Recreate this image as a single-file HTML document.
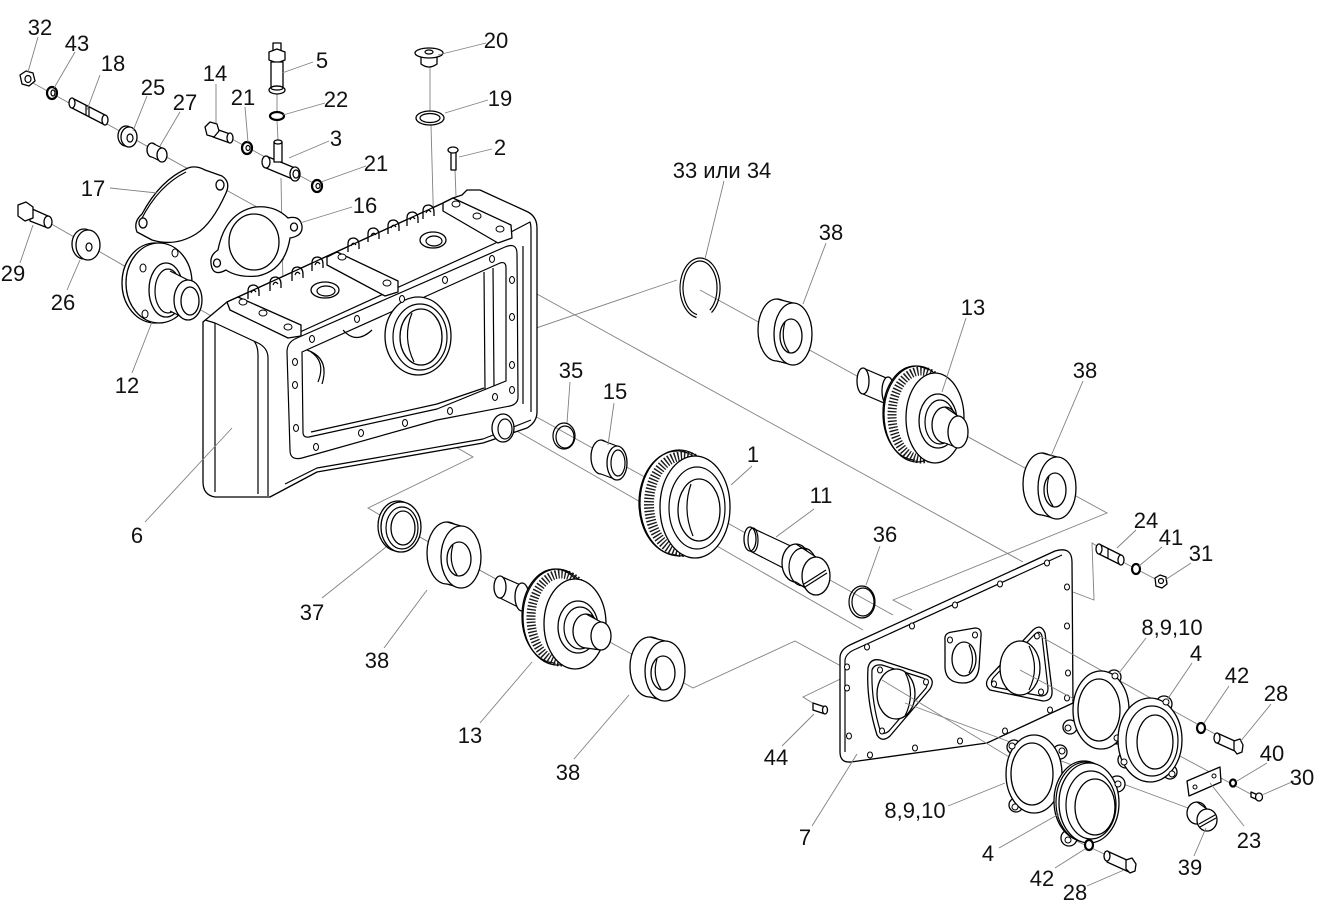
<!DOCTYPE html>
<html><head><meta charset="utf-8"><style>
html,body{margin:0;padding:0;background:#fff;}
svg{display:block}
.k{fill:#fff;stroke:#000;stroke-width:1.3;stroke-linejoin:round}
.n{fill:none;stroke:#000;stroke-width:1.2;stroke-linejoin:round}
.g{fill:none;stroke:#808080;stroke-width:0.9}
.h{fill:#fff;stroke:#000;stroke-width:1}
.d{fill:#fff;stroke:#000;stroke-width:2.2}
.w{fill:#fff;stroke:none}
.t{fill:none;stroke:#1a1a1a;stroke-dasharray:1.4 1.8}
text{font-family:"Liberation Sans",Arial,sans-serif;font-size:22px;text-anchor:middle;fill:#111}
</style></head><body>
<svg width="1324" height="905" viewBox="0 0 1324 905" xmlns="http://www.w3.org/2000/svg">
<rect width="1324" height="905" fill="#fff"/>

<g class="g">
<path d="M33,83 L293,227"/>
<path d="M48,222 L213,317"/>
<path d="M230,138 L317,185"/>
<path d="M255,243 L284,260"/>
<path d="M277,92 L277,112 M277,120 L278,140 M281,178 L283,286"/>
<path d="M430,66 L430,111 M431,125 L434,236"/>
<path d="M455,170 L456,196"/>
<path d="M403,327 L457,355 L677,280"/>
<path d="M700,290 L1107,513 L893,600 L912,610"/>
<path d="M380,330 L893,615"/>
<path d="M515,430 L863,630"/>
<path d="M517,283 L1023,562"/>
<path d="M310,362 L473,457 L368,508 L380,515 L693,688 L795,641 L852,672"/>
<path d="M819,707 L803,697 L855,672"/>
<path d="M1073,592 L1094,600 L1092,543 L1100,548 M1121,561 L1161,582"/>
</g>

<!-- HOUSING 6 -->
<path class="k" d="M203,322 L227,302 L238,297 L443,203 L453,198 L462,195 L467,190 L480,190 L528,212 Q537,217 537,228 L537,412 Q537,422 527,428 L483,443 L317,472 L270,497 L215,497 Q203,495 203,482 Z"/>
<g class="k">
<path d="M248,299 L248,291 Q248,285 254,285 Q259,286 259,292 L259,296"/>
<path d="M270,291 L270,283 Q270,277 276,277 Q281,278 281,284 L281,288"/>
<path d="M292,281 L292,273 Q292,267 298,267 Q303,268 303,274 L303,278"/>
<path d="M312,271 L312,263 Q312,257 318,257 Q323,258 323,264 L323,268"/>
<path d="M348,252 L348,244 Q348,238 354,238 Q359,239 359,245 L359,249"/>
<path d="M368,242 L368,234 Q368,228 374,228 Q379,229 379,235 L379,239"/>
<path d="M388,234 L388,226 Q388,220 394,220 Q399,221 399,227 L399,231"/>
<path d="M407,226 L407,218 Q407,212 413,212 Q418,213 418,219 L418,223"/>
<path d="M423,219 L423,211 Q423,205 429,205 Q434,206 434,212 L434,216"/>
</g>
<path class="n" stroke-width="0.9" d="M251,293 Q253,288 256,292 M273,285 Q275,280 278,284 M295,275 Q297,270 300,274 M315,265 Q317,260 320,264 M351,246 Q353,241 356,245 M371,236 Q373,231 376,235 M391,228 Q393,223 396,227 M410,220 Q412,215 415,219 M426,213 Q428,208 431,212"/>
<path class="n" d="M238,297 L443,203"/>
<path class="n" d="M300,332 L500,241"/>
<ellipse class="k" cx="325" cy="290" rx="14" ry="8"/>
<ellipse class="n" cx="326" cy="291" rx="9" ry="5"/>
<ellipse class="k" cx="433" cy="240" rx="13" ry="8"/>
<ellipse class="n" cx="434" cy="241" rx="8" ry="5"/>
<path class="k" d="M227,302 L238,297 L301,325 L301,336 L288,338 L230,310 Z"/>
<ellipse class="h" cx="243" cy="302" rx="4" ry="3"/>
<ellipse class="h" cx="263" cy="313" rx="4" ry="3"/>
<ellipse class="h" cx="288" cy="327" rx="4" ry="3"/>
<path class="k" d="M327,257 L337,252 L398,281 L398,292 L385,296 L327,265 Z"/>
<ellipse class="h" cx="342" cy="257" rx="4" ry="3"/>
<ellipse class="h" cx="387" cy="283" rx="4" ry="3"/>
<path class="k" d="M443,203 L453,198 L511,225 L512,238 L498,243 L443,211 Z"/>
<ellipse class="h" cx="456" cy="204" rx="4" ry="3"/>
<ellipse class="h" cx="477" cy="216" rx="4" ry="3"/>
<ellipse class="h" cx="500" cy="229" rx="4" ry="3"/>
<path class="n" d="M215,323 L258,343 Q268,348 268,358 L268,496"/>
<path class="n" d="M215,323 L215,492"/>
<path class="n" d="M254,341 Q258,346 258,355 L258,494"/>
<path class="n" d="M205,320 L215,323"/>
<path class="n" d="M511,232 L530,222 Q531,225 531,230 L531,412"/>
<path class="n" d="M523,246 L523,404"/>
<path class="n" d="M287,352 Q287,342 297,338 L505,247 Q517,242 517,254 L518,397 Q518,404 510,406 L437,420 L302,458 Q290,461 290,450 Z"/>
<path class="n" d="M302,352 L500,263 Q506,261 506,268 L506,381 L437,409 L309,437 Q303,438 303,432 Z"/>
<path class="n" d="M484,272 L485,390 M493,268 L494,386 M311,432 L437,404 L484,388"/>
<path class="n" d="M531,420 L483,439 L375,458 L317,468 L285,484"/>
<path class="n" d="M307,350 Q330,358 322,384 M311,352 Q326,362 318,382"/>
<path class="n" d="M343,330 Q356,345 372,330"/>
<ellipse class="k" cx="418" cy="336" rx="33" ry="39"/>
<ellipse class="n" cx="420" cy="337" rx="27" ry="33"/>
<ellipse class="k" cx="421" cy="337" rx="21" ry="28"/>
<path class="n" d="M412,313 Q402,337 414,362"/>
<ellipse class="k" cx="503" cy="428" rx="11" ry="14"/>
<ellipse class="n" cx="505" cy="429" rx="7" ry="10"/>
<g class="h">
<ellipse cx="295" cy="362" rx="2.5" ry="3.5"/><ellipse cx="295" cy="385" rx="2.5" ry="3.5"/><ellipse cx="296" cy="428" rx="2.5" ry="3.5"/>
<ellipse cx="316" cy="447" rx="2.5" ry="3.5"/><ellipse cx="361" cy="433" rx="2.5" ry="3.5"/><ellipse cx="405" cy="423" rx="2.5" ry="3.5"/>
<ellipse cx="450" cy="411" rx="2.5" ry="3.5"/><ellipse cx="495" cy="397" rx="2.5" ry="3.5"/>
<ellipse cx="512" cy="390" rx="2.5" ry="3.5"/><ellipse cx="512" cy="365" rx="2.5" ry="3.5"/><ellipse cx="512" cy="317" rx="2.5" ry="3.5"/><ellipse cx="512" cy="280" rx="2.5" ry="3.5"/>
<ellipse cx="492" cy="259" rx="2.5" ry="3.5"/><ellipse cx="445" cy="280" rx="2.5" ry="3.5"/><ellipse cx="402" cy="299" rx="2.5" ry="3.5"/><ellipse cx="357" cy="319" rx="2.5" ry="3.5"/><ellipse cx="312" cy="339" rx="2.5" ry="3.5"/>
</g>

<!-- TOP-LEFT SMALL PARTS -->
<path class="k" d="M20,75 L26,71 L33,73 L35,81 L29,86 L22,84 Z"/>
<ellipse class="n" cx="28" cy="79" rx="3" ry="3.5"/>
<ellipse class="d" cx="52" cy="93" rx="5" ry="6"/>
<ellipse class="n" cx="53" cy="93" rx="2" ry="3"/>
<path class="k" d="M72,98 L105,115 L105,125 L72,108 Z"/>
<ellipse class="k" cx="72" cy="103" rx="3" ry="5"/>
<ellipse class="k" cx="105" cy="120" rx="3" ry="5"/>
<path class="n" d="M86,105 L86,115 M89,107 L89,117"/>
<ellipse class="k" cx="126" cy="136" rx="8" ry="10"/>
<ellipse class="k" cx="129" cy="137" rx="8" ry="10"/>
<ellipse class="n" cx="130" cy="138" rx="3" ry="4"/>
<ellipse class="k" cx="152" cy="150" rx="5" ry="7"/>
<path class="w" d="M152,143 L162,148 L162,162 L152,157 Z"/>
<path class="n" d="M152,143 L162,148 M152,157 L162,162"/>
<ellipse class="k" cx="162" cy="155" rx="5" ry="7"/>
<path class="k" d="M213,128 L230,134 L230,143 L213,137 Z"/>
<ellipse class="k" cx="230" cy="138" rx="3" ry="5"/>
<path class="k" d="M205,127 L210,122 L217,124 L219,131 L214,137 L207,135 Z"/>
<ellipse class="d" cx="247" cy="148" rx="5" ry="6"/>
<ellipse class="n" cx="248" cy="148" rx="2" ry="2.5"/>
<rect class="k" x="273" y="43" width="8" height="8"/>
<path class="k" d="M269,52 L277,49 L285,52 L285,60 L277,63 L269,60 Z"/>
<rect class="k" x="271" y="62" width="12" height="26"/>
<ellipse class="k" cx="277" cy="90" rx="8" ry="4"/>
<ellipse class="n" cx="277" cy="88" rx="6" ry="2"/>
<ellipse class="d" cx="277" cy="116" rx="7" ry="4"/>
<path class="k" d="M266,156 L295,168 L295,180 L266,168 Z"/>
<ellipse class="k" cx="266" cy="162" rx="4" ry="6"/>
<rect class="k" x="274" y="142" width="8" height="20"/>
<ellipse class="k" cx="278" cy="142" rx="4" ry="2"/>
<ellipse class="k" cx="295" cy="174" rx="5" ry="7"/>
<ellipse class="n" cx="296" cy="174" rx="3" ry="4"/>
<ellipse class="d" cx="317" cy="186" rx="5" ry="6"/>
<ellipse class="n" cx="318" cy="186" rx="2" ry="2.5"/>
<path class="k" d="M421,56 L421,64 Q429,70 437,64 L437,56 Z"/>
<ellipse class="k" cx="429" cy="53" rx="14" ry="5"/>
<ellipse class="n" cx="429" cy="52" rx="4" ry="2"/>
<ellipse class="k" cx="430" cy="118" rx="14" ry="7"/>
<ellipse class="n" cx="430" cy="118" rx="10" ry="4.5"/>
<rect class="k" x="451" y="151" width="5" height="19"/>
<ellipse class="k" cx="453" cy="150" rx="5" ry="3"/>

<path class="k" d="M137,232 Q133,222 142,214 Q160,180 188,168 Q196,165 205,170 L222,176 Q231,182 226,193 Q212,224 196,234 Q175,247 152,240 Z"/>
<path class="n" d="M141,220 Q158,186 186,172"/>
<ellipse class="k" cx="143" cy="223" rx="4" ry="5"/>
<ellipse class="k" cx="220" cy="185" rx="4" ry="5"/>
<path class="k" d="M212,268 Q208,256 218,250 Q225,213 255,207 Q275,205 288,218 Q300,215 302,226 Q303,236 290,238 Q285,270 258,276 Q238,278 226,270 Q215,276 212,268 Z"/>
<ellipse class="k" cx="254" cy="242" rx="25" ry="28"/>
<ellipse class="k" cx="217" cy="263" rx="3.5" ry="4"/>
<ellipse class="k" cx="294" cy="227" rx="3.5" ry="4"/>
<path class="k" d="M30,208 L48,216 L48,228 L30,221 Z"/>
<ellipse class="k" cx="48" cy="222" rx="4" ry="6"/>
<path class="k" d="M18,205 L26,202 L33,207 L33,218 L25,221 L18,216 Z"/>
<ellipse class="k" cx="84" cy="244" rx="12" ry="15"/>
<ellipse class="k" cx="88" cy="245" rx="12" ry="15"/>
<ellipse class="n" cx="89" cy="247" rx="3" ry="4"/>
<ellipse class="k" cx="155" cy="283" rx="33" ry="40"/>
<ellipse class="k" cx="159" cy="283" rx="33" ry="40"/>
<ellipse class="h" cx="143" cy="268" rx="3" ry="4"/>
<ellipse class="h" cx="175" cy="253" rx="3" ry="4"/>
<ellipse class="h" cx="145" cy="314" rx="3" ry="4"/>
<ellipse class="k" cx="166" cy="290" rx="17" ry="27"/>
<ellipse class="n" cx="168" cy="291" rx="13" ry="22"/>
<path class="w" d="M170,271 L188,280 L188,320 L170,311 Z"/>
<path class="n" d="M170,271 L188,280 M170,311 L188,320"/>
<ellipse class="k" cx="188" cy="300" rx="14" ry="20"/>
<ellipse class="k" cx="190" cy="301" rx="9" ry="14"/>

<!-- UPPER SHAFT GROUP -->
<path class="n" stroke-width="1.4" d="M711.5,312.6 A20,30 0 1 0 696.5,317.5"/>
<path class="n" stroke-width="1.4" d="M709.8,310.1 A17,27 0 1 0 697,314.6"/>
<ellipse class="k" cx="777" cy="330" rx="19" ry="31"/>
<path class="w" d="M777,299 L793,303 L793,365 L777,361 Z"/>
<path class="n" d="M777,299 L793,303 M777,361 L793,365"/>
<ellipse class="k" cx="793" cy="334" rx="19" ry="31"/>
<ellipse class="k" cx="791" cy="336" rx="11" ry="17"/>
<path class="n" d="M785,322 Q780,340 789,352"/>
<path class="w" d="M863,368 L898,383 L898,409 L863,394 Z"/>
<path class="n" d="M863,368 L898,383 M863,394 L898,409"/>
<ellipse class="k" cx="863" cy="381" rx="6" ry="13"/>
<ellipse class="k" cx="888" cy="391" rx="6" ry="14"/>
<ellipse class="k" cx="915" cy="413" rx="32" ry="47"/>
<path class="w" d="M915,366 L935,372 L935,464 L915,460 Z"/>
<ellipse class="t" cx="921" cy="415" rx="29" ry="44" stroke-width="9"/>
<ellipse class="n" cx="917" cy="414" rx="33" ry="48" stroke-width="0.9"/>
<ellipse class="k" cx="935" cy="418" rx="29" ry="45"/>
<ellipse class="k" cx="938" cy="421" rx="19" ry="27"/>
<ellipse class="n" cx="940" cy="422" rx="15" ry="22"/>
<ellipse class="k" cx="945" cy="425" rx="13" ry="18"/>
<path class="w" d="M945,407 L958,416 L958,448 L945,443 Z"/>
<path class="n" d="M945,407 L958,416 M945,443 L958,448"/>
<ellipse class="k" cx="958" cy="432" rx="10" ry="16"/>
<ellipse class="k" cx="1042" cy="484" rx="19" ry="31"/>
<path class="w" d="M1042,453 L1057,457 L1057,519 L1042,515 Z"/>
<path class="n" d="M1042,453 L1057,457 M1042,515 L1057,519"/>
<ellipse class="k" cx="1057" cy="488" rx="19" ry="31"/>
<ellipse class="k" cx="1055" cy="490" rx="11" ry="17"/>
<path class="n" d="M1049,476 Q1044,494 1053,506"/>

<!-- MIDDLE SHAFT GROUP -->
<ellipse class="n" cx="564" cy="436" rx="11" ry="13" stroke-width="1.3"/>
<ellipse class="n" cx="565" cy="437" rx="9" ry="11"/>
<ellipse class="k" cx="601" cy="457" rx="10" ry="17"/>
<path class="w" d="M601,440 L617,446 L617,480 L601,474 Z"/>
<path class="n" d="M601,440 L617,446 M601,474 L617,480"/>
<ellipse class="k" cx="617" cy="463" rx="10" ry="17"/>
<ellipse class="n" cx="618" cy="463" rx="7" ry="13"/>
<ellipse class="k" cx="677" cy="503" rx="38" ry="52"/>
<path class="w" d="M677,451 L695,456 L695,558 L677,555 Z"/>
<ellipse class="t" cx="683" cy="504" rx="34" ry="48" stroke-width="10"/>
<ellipse class="n" cx="679" cy="503" rx="39" ry="53" stroke-width="0.9"/>
<ellipse class="k" cx="695" cy="507" rx="35" ry="51"/>
<ellipse class="n" cx="697" cy="508" rx="28" ry="41"/>
<ellipse class="k" cx="699" cy="510" rx="21" ry="31"/>
<path class="n" d="M691,484 Q682,510 693,536"/>
<path class="w" d="M750,527 L795,548 L795,574 L750,551 Z"/>
<path class="n" d="M750,527 L795,548 M750,551 L795,574"/>
<ellipse class="k" cx="750" cy="539" rx="6" ry="12"/>
<ellipse class="n" cx="753" cy="540" rx="5" ry="12" stroke-width="1.8"/>
<ellipse class="k" cx="796" cy="563" rx="14" ry="19"/>
<path class="w" d="M796,544 L816,557 L816,595 L796,582 Z"/>
<path class="n" d="M796,544 L816,557 M796,582 L816,595"/>
<ellipse class="n" cx="803" cy="567" rx="14" ry="19"/>
<ellipse class="k" cx="816" cy="576" rx="14" ry="19"/>
<path class="n" d="M804,584 L826,570 M805,587 L827,573"/>
<ellipse class="n" cx="862" cy="602" rx="13" ry="16" stroke-width="1.3"/>
<ellipse class="n" cx="863" cy="602" rx="11" ry="14"/>

<!-- LOWER SHAFT GROUP -->
<ellipse class="k" cx="398" cy="526" rx="20" ry="25"/>
<ellipse class="k" cx="401" cy="527" rx="20" ry="25"/>
<ellipse class="n" cx="402" cy="528" rx="16" ry="21" stroke-width="2.2"/>
<ellipse class="k" cx="403" cy="528" rx="12" ry="17"/>
<ellipse class="k" cx="447" cy="553" rx="20" ry="31"/>
<path class="w" d="M447,522 L461,526 L461,588 L447,584 Z"/>
<path class="n" d="M447,522 L461,526 M447,584 L461,588"/>
<ellipse class="k" cx="461" cy="557" rx="20" ry="31"/>
<ellipse class="k" cx="459" cy="559" rx="12" ry="17"/>
<path class="n" d="M453,545 Q448,562 457,575"/>
<path class="w" d="M500,576 L532,590 L532,614 L500,598 Z"/>
<path class="n" d="M500,576 L532,590 M500,598 L532,614"/>
<ellipse class="k" cx="500" cy="587" rx="6" ry="11"/>
<ellipse class="k" cx="522" cy="597" rx="7" ry="14"/>
<ellipse class="k" cx="555" cy="616" rx="33" ry="47"/>
<path class="w" d="M555,569 L575,579 L575,669 L555,663 Z"/>
<ellipse class="t" cx="561" cy="618" rx="30" ry="44" stroke-width="9"/>
<ellipse class="n" cx="557" cy="617" rx="34" ry="48" stroke-width="0.9"/>
<ellipse class="k" cx="575" cy="624" rx="31" ry="45"/>
<ellipse class="k" cx="578" cy="627" rx="20" ry="26"/>
<ellipse class="n" cx="580" cy="628" rx="16" ry="21"/>
<ellipse class="k" cx="586" cy="631" rx="13" ry="17"/>
<path class="w" d="M586,614 L601,622 L601,650 L586,648 Z"/>
<path class="n" d="M586,614 L601,622 M586,648 L601,650"/>
<ellipse class="k" cx="601" cy="636" rx="10" ry="14"/>
<ellipse class="k" cx="650" cy="667" rx="20" ry="30"/>
<path class="w" d="M650,637 L665,641 L665,701 L650,697 Z"/>
<path class="n" d="M650,637 L665,641 M650,697 L665,701"/>
<ellipse class="k" cx="665" cy="671" rx="20" ry="30"/>
<ellipse class="k" cx="663" cy="673" rx="12" ry="17"/>
<path class="n" d="M657,659 Q652,676 661,689"/>

<!-- COVER PLATE 7 -->
<path class="k" d="M852,644 L1055,551 Q1072,546 1072,562 L1073,703 L987,743 L851,762 Q840,763 840,752 L840,658 Q840,649 852,644 Z"/>
<path class="n" d="M845,752 L845,660 Q846,653 856,649 L1062,555"/>
<path class="k" d="M868,668 Q870,658 880,660 L926,675 Q936,679 930,689 L890,736 Q882,743 877,735 Q866,700 868,668 Z"/>
<path class="n" d="M872,670 Q874,664 882,665 L923,678 Q930,681 926,688 L889,731 Q883,736 880,730 Q871,700 872,670 Z"/>
<ellipse class="k" cx="896" cy="694" rx="19" ry="25"/>
<path class="n" d="M905,672 Q916,694 905,716"/>
<ellipse class="h" cx="880" cy="670" rx="2.5" ry="3"/>
<ellipse class="h" cx="926" cy="682" rx="2.5" ry="3"/>
<ellipse class="h" cx="882" cy="731" rx="2.5" ry="3"/>
<path class="k" d="M945,640 Q944,633 952,632 L975,628 Q982,628 981,636 L979,668 Q977,683 963,683 Q946,683 945,668 Z"/>
<ellipse class="k" cx="964" cy="659" rx="12" ry="17"/>
<path class="n" d="M969,645 Q976,660 969,673"/>
<ellipse class="h" cx="950" cy="640" rx="2.5" ry="3"/>
<ellipse class="h" cx="975" cy="635" rx="2.5" ry="3"/>
<path class="k" d="M990,690 Q983,684 990,676 L1033,630 Q1041,623 1045,633 L1052,690 Q1053,701 1043,701 Z"/>
<path class="n" d="M994,687 Q989,683 994,677 L1034,635 Q1040,629 1042,636 L1048,688 Q1048,696 1041,696 Z"/>
<ellipse class="k" cx="1020" cy="668" rx="20" ry="27"/>
<path class="n" d="M1029,646 Q1040,668 1029,690"/>
<ellipse class="h" cx="994" cy="684" rx="2.5" ry="3"/>
<ellipse class="h" cx="1037" cy="636" rx="2.5" ry="3"/>
<ellipse class="h" cx="1041" cy="692" rx="2.5" ry="3"/>
<g class="h">
<ellipse cx="867" cy="647" rx="2.5" ry="3"/><ellipse cx="912" cy="626" rx="2.5" ry="3"/><ellipse cx="955" cy="605" rx="2.5" ry="3"/><ellipse cx="1000" cy="584" rx="2.5" ry="3"/><ellipse cx="1047" cy="563" rx="2.5" ry="3"/>
<ellipse cx="1067" cy="587" rx="2.5" ry="3"/><ellipse cx="1067" cy="626" rx="2.5" ry="3"/><ellipse cx="1068" cy="673" rx="2.5" ry="3"/><ellipse cx="1067" cy="698" rx="2.5" ry="3"/>
<ellipse cx="1050" cy="710" rx="2.5" ry="3"/><ellipse cx="1005" cy="731" rx="2.5" ry="3"/><ellipse cx="960" cy="741" rx="2.5" ry="3"/><ellipse cx="915" cy="748" rx="2.5" ry="3"/><ellipse cx="870" cy="755" rx="2.5" ry="3"/>
<ellipse cx="849" cy="736" rx="2.5" ry="3"/><ellipse cx="847" cy="688" rx="2.5" ry="3"/><ellipse cx="847" cy="667" rx="2.5" ry="3"/>
</g>
<g class="g">
<path d="M905,703 L1188,808"/>
<path d="M882,680 L1062,789"/>
<path d="M1038,635 L1240,748"/>
<path d="M1020,670 L1258,798"/>
<path d="M1070,838 L1130,866"/>
</g>

<path class="k" d="M813,703 L825,707 L825,714 L813,710 Z"/>
<ellipse class="k" cx="825" cy="710" rx="2.5" ry="4"/>

<!-- gasket 8,9,10 upper -->
<circle class="k" cx="1114" cy="677" r="7"/>
<circle class="k" cx="1116" cy="737" r="7"/>
<circle class="k" cx="1070" cy="727" r="7"/>
<ellipse class="k" cx="1101" cy="710" rx="28" ry="39"/>
<ellipse class="k" cx="1099" cy="710" rx="21" ry="31"/>
<circle class="h" cx="1115" cy="676" r="3"/>
<circle class="h" cx="1117" cy="738" r="3"/>
<circle class="h" cx="1068" cy="728" r="3"/>
<!-- cover 4 upper -->
<circle class="k" cx="1164" cy="704" r="8"/>
<circle class="k" cx="1126" cy="760" r="8"/>
<circle class="k" cx="1170" cy="772" r="7"/>
<ellipse class="k" cx="1150" cy="740" rx="32" ry="42"/>
<ellipse class="n" cx="1152" cy="741" rx="26" ry="35"/>
<ellipse class="k" cx="1155" cy="742" rx="18" ry="27"/>
<circle class="h" cx="1166" cy="702" r="3"/>
<circle class="h" cx="1124" cy="762" r="3"/>
<circle class="h" cx="1172" cy="774" r="3"/>
<!-- gasket 8,9,10 lower -->
<circle class="k" cx="1014" cy="747" r="7"/>
<circle class="k" cx="1060" cy="752" r="7"/>
<circle class="k" cx="1016" cy="805" r="7"/>
<ellipse class="k" cx="1034" cy="774" rx="28" ry="39"/>
<ellipse class="k" cx="1032" cy="774" rx="21" ry="31"/>
<circle class="h" cx="1012" cy="746" r="3"/>
<circle class="h" cx="1062" cy="751" r="3"/>
<circle class="h" cx="1015" cy="807" r="3"/>
<!-- cover 4 lower -->
<circle class="k" cx="1073" cy="782" r="8"/>
<circle class="k" cx="1117" cy="784" r="8"/>
<circle class="k" cx="1069" cy="838" r="8"/>
<ellipse class="k" cx="1084" cy="801" rx="30" ry="40"/>
<ellipse class="n" cx="1086" cy="802" rx="30" ry="40"/>
<ellipse class="k" cx="1089" cy="803" rx="30" ry="40"/>
<ellipse class="n" cx="1091" cy="805" rx="25" ry="34"/>
<ellipse class="k" cx="1095" cy="807" rx="20" ry="28"/>
<circle class="h" cx="1118" cy="784" r="3"/>
<circle class="h" cx="1068" cy="840" r="3"/>

<!-- right small parts -->
<path class="k" d="M1099,544 L1121,555 L1121,565 L1099,554 Z"/>
<ellipse class="k" cx="1099" cy="549" rx="3" ry="5"/>
<ellipse class="k" cx="1121" cy="560" rx="3" ry="5"/>
<path class="n" d="M1108,548 L1108,558"/>
<ellipse class="d" cx="1136" cy="569" rx="4" ry="5"/>
<path class="k" d="M1155,578 L1160,575 L1166,577 L1167,584 L1162,588 L1156,586 Z"/>
<circle class="n" cx="1161" cy="581" r="2.5"/>
<ellipse class="d" cx="1201" cy="728" rx="4" ry="5"/>
<path class="k" d="M1217,733 L1237,742 L1237,752 L1217,743 Z"/>
<ellipse class="k" cx="1217" cy="738" rx="3" ry="5"/>
<path class="k" d="M1234,741 L1240,739 L1243,745 L1242,752 L1237,754 L1234,750 Z"/>
<path class="k" d="M1187,781 L1220,767 L1221,782 L1189,796 Z"/>
<circle class="h" cx="1195" cy="787" r="2"/>
<circle class="h" cx="1214" cy="776" r="2"/>
<ellipse class="d" cx="1233" cy="783" rx="3" ry="3.5"/>
<path class="k" d="M1251,792 L1258,795 L1258,800 L1251,797 Z"/>
<ellipse class="k" cx="1259" cy="797" rx="3.5" ry="4"/>
<ellipse class="k" cx="1197" cy="813" rx="10" ry="11"/>
<path class="w" d="M1197,802 L1207,809 L1207,831 L1197,824 Z"/>
<path class="n" d="M1197,802 L1207,809 M1197,824 L1207,831"/>
<ellipse class="k" cx="1207" cy="820" rx="10" ry="11"/>
<path class="n" d="M1199,824 L1215,815 M1200,827 L1216,818"/>
<ellipse class="d" cx="1089" cy="845" rx="4" ry="5"/>
<path class="k" d="M1107,851 L1129,861 L1129,872 L1107,862 Z"/>
<ellipse class="k" cx="1107" cy="856" rx="3" ry="5"/>
<path class="k" d="M1126,860 L1132,858 L1136,864 L1135,871 L1130,873 L1126,869 Z"/>

<!-- LEADERS -->
<g class="g" stroke="#6a6a6a">
<path d="M38,37 L28,72"/>
<path d="M75,52 L54,88"/>
<path d="M100,75 L87,110"/>
<path d="M147,96 L133,131"/>
<path d="M180,112 L160,146"/>
<path d="M216,84 L216,123"/>
<path d="M245,107 L248,142"/>
<path d="M313,62 L282,73"/>
<path d="M325,103 L283,115"/>
<path d="M329,141 L289,158"/>
<path d="M366,166 L321,182"/>
<path d="M486,43 L438,55"/>
<path d="M488,100 L445,113"/>
<path d="M492,149 L459,157"/>
<path d="M110,188 L157,193"/>
<path d="M352,207 L300,223"/>
<path d="M20,263 L33,225"/>
<path d="M67,290 L80,260"/>
<path d="M132,373 L152,322"/>
<path d="M724,181 L705,259"/>
<path d="M826,243 L803,304"/>
<path d="M966,318 L942,392"/>
<path d="M1083,381 L1051,456"/>
<path d="M570,382 L567,423"/>
<path d="M614,403 L608,445"/>
<path d="M752,466 L731,485"/>
<path d="M814,509 L776,537"/>
<path d="M880,546 L866,585"/>
<path d="M145,522 L232,428"/>
<path d="M322,598 L386,547"/>
<path d="M384,648 L427,590"/>
<path d="M480,723 L532,662"/>
<path d="M574,759 L629,695"/>
<path d="M1136,530 L1117,548"/>
<path d="M1162,547 L1139,566"/>
<path d="M1191,563 L1165,580"/>
<path d="M1146,638 L1119,673"/>
<path d="M1192,663 L1167,700"/>
<path d="M1229,686 L1204,723"/>
<path d="M1271,704 L1240,742"/>
<path d="M1267,763 L1237,781"/>
<path d="M1294,781 L1262,795"/>
<path d="M1244,826 L1210,783"/>
<path d="M1194,856 L1206,828"/>
<path d="M1087,886 L1124,870"/>
<path d="M1055,868 L1085,849"/>
<path d="M999,848 L1059,814"/>
<path d="M948,806 L1005,783"/>
<path d="M812,826 L857,754"/>
<path d="M782,746 L814,714"/>
</g>

<!-- LABELS -->
<text x="40" y="35">32</text>
<text x="77" y="51">43</text>
<text x="113" y="71">18</text>
<text x="153" y="95">25</text>
<text x="185" y="110">27</text>
<text x="215" y="81">14</text>
<text x="243" y="105">21</text>
<text x="322" y="68">5</text>
<text x="336" y="107">22</text>
<text x="336" y="146">3</text>
<text x="376" y="171">21</text>
<text x="496" y="48">20</text>
<text x="500" y="106">19</text>
<text x="500" y="155">2</text>
<text x="93" y="196">17</text>
<text x="365" y="213">16</text>
<text x="13" y="281">29</text>
<text x="63" y="310">26</text>
<text x="127" y="393">12</text>
<text x="722" y="178">33 или 34</text>
<text x="831" y="240">38</text>
<text x="973" y="315">13</text>
<text x="1085" y="378">38</text>
<text x="571" y="378">35</text>
<text x="615" y="399">15</text>
<text x="753" y="462">1</text>
<text x="821" y="503">11</text>
<text x="885" y="542">36</text>
<text x="137" y="543">6</text>
<text x="312" y="620">37</text>
<text x="377" y="668">38</text>
<text x="470" y="743">13</text>
<text x="568" y="780">38</text>
<text x="1146" y="528">24</text>
<text x="1171" y="545">41</text>
<text x="1201" y="561">31</text>
<text x="1172" y="635">8,9,10</text>
<text x="1196" y="661">4</text>
<text x="1237" y="683">42</text>
<text x="1276" y="701">28</text>
<text x="776" y="765">44</text>
<text x="1272" y="761">40</text>
<text x="1302" y="785">30</text>
<text x="915" y="818">8,9,10</text>
<text x="805" y="845">7</text>
<text x="1249" y="848">23</text>
<text x="988" y="861">4</text>
<text x="1190" y="875">39</text>
<text x="1042" y="886">42</text>
<text x="1075" y="900">28</text>
</svg>
</body></html>
